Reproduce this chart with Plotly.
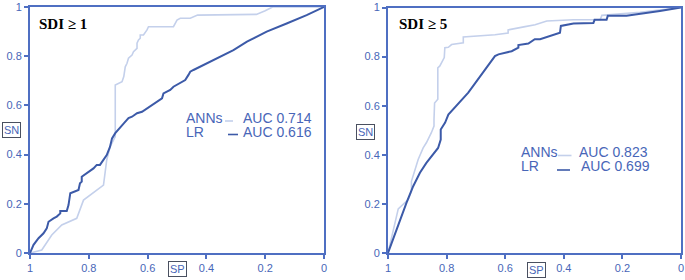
import plotly.graph_objects as go

# ---------------- data ----------------
tick_vals = [0, 0.2, 0.4, 0.6, 0.8, 1]

# SDI >= 1
ann1_sp = [1, .96, .926, .892, .841, .818, .75, .739, .728, .71, .71, .70, .687, .681, .676, .67, .665, .653, .648, .636, .636, .631, .625, .625, .614, .602, .597, .512, .506, .5, .489, .455, .43, .23, .2, .175, 0]
ann1_sn = [0, .012, .073, .114, .141, .215, .276, .378, .43, .473, .683, .69, .696, .717, .757, .771, .792, .805, .818, .832, .853, .866, .873, .886, .886, .907, .92, .92, .934, .947, .954, .954, .967, .97, .985, 1, 1]
lr1_sp = [1, .988, .971, .954, .943, .937, .92, .909, .897, .897, .875, .869, .863, .847, .835, .83, .824, .824, .807, .784, .773, .762, .739, .728, .721, .71, .681, .665, .653, .636, .619, .602, .585, .568, .551, .546, .523, .512, .489, .472, .461, .455, .444, .398, .353, .308, .262, .195, .127, .059, 0]
lr1_sn = [0, .033, .06, .08, .1, .127, .141, .148, .161, .171, .171, .195, .243, .249, .256, .283, .29, .31, .324, .344, .358, .358, .398, .431, .466, .487, .527, .548, .554, .568, .574, .588, .602, .615, .629, .649, .663, .676, .69, .703, .724, .737, .744, .771, .798, .825, .859, .9, .933, .967, 1]

# SDI >= 5
ann5_sp = [1, .965, .931, .92, .92, .897, .88, .869, .852, .843, .843, .841, .83, .83, .823, .808, .806, .794, .783, .743, .743, .714, .635, .59, .59, .532, .498, .458, .367, .276, .27, .14, 0]
ann5_sn = [0, .18, .218, .251, .292, .381, .428, .449, .49, .517, .544, .611, .626, .754, .762, .796, .836, .838, .849, .856, .88, .882, .889, .896, .909, .922, .93, .945, .95, .95, .968, .98, 1]
lr5_sp = [1, .977, .96, .937, .914, .891, .869, .84, .829, .82, .82, .805, .8, .794, .726, .635, .623, .578, .555, .555, .521, .499, .481, .447, .413, .41, .367, .299, .295, .254, .25, .186, .14, .072, 0]
lr5_sn = [0, .075, .136, .204, .272, .327, .367, .408, .428, .462, .503, .531, .546, .564, .653, .802, .809, .822, .836, .847, .853, .871, .871, .885, .897, .925, .935, .937, .95, .95, .966, .966, .973, .986, 1]

panel_titles = ["SDI ≥ 1", "SDI ≥ 5"]
model_names = ["ANNs", "LR"]
auc_sdi1 = ["AUC 0.714", "AUC 0.616"]
auc_sdi5 = ["AUC 0.823", "AUC 0.699"]

# ---------------- style ----------------
W, H = 685, 280
BORDER = "#4f6fc2"
TEXT = "#4866b8"
DARK = "#3c5aa8"
LIGHT = "#c4d0eb"
SANS = "Liberation Sans, Arial, sans-serif"
SERIF = "Liberation Serif, Times New Roman, serif"


def px(x):
    return x / W


def py(y):
    return 1 - y / H


fig = go.Figure()
fig.add_trace(go.Scatter(x=ann1_sp, y=ann1_sn, mode="lines", line=dict(color=LIGHT, width=1.6),
                         name=model_names[0], xaxis="x", yaxis="y"))
fig.add_trace(go.Scatter(x=lr1_sp, y=lr1_sn, mode="lines", line=dict(color=DARK, width=2),
                         name=model_names[1], xaxis="x", yaxis="y"))
fig.add_trace(go.Scatter(x=ann5_sp, y=ann5_sn, mode="lines", line=dict(color=LIGHT, width=1.6),
                         name=model_names[0], xaxis="x2", yaxis="y2"))
fig.add_trace(go.Scatter(x=lr5_sp, y=lr5_sn, mode="lines", line=dict(color=DARK, width=2),
                         name=model_names[1], xaxis="x2", yaxis="y2"))

axis_common = dict(
    showgrid=False, zeroline=False, showline=True, mirror=True, automargin=False,
    linecolor=BORDER, linewidth=2, ticks="outside", ticklen=4, tickwidth=1.5,
    tickcolor=BORDER, tickvals=tick_vals, tickfont=dict(family=SANS, size=11, color=TEXT),
)

fig.update_layout(
    width=W, height=H, margin=dict(l=0, r=0, t=0, b=0, autoexpand=False),
    paper_bgcolor="white", plot_bgcolor="white", showlegend=False,
    xaxis=dict(domain=[px(30), px(324)], range=[1, 0], anchor="y", **axis_common),
    yaxis=dict(domain=[py(253), py(7)], range=[0, 1], anchor="x", **axis_common),
    xaxis2=dict(domain=[px(388), px(681)], range=[1, 0], anchor="y2", **axis_common),
    yaxis2=dict(domain=[py(253), py(7.5)], range=[0, 1], anchor="x2", **axis_common),
)

ann = []
# titles
for t, x0, y0 in [(panel_titles[0], 37, 24), (panel_titles[1], 397, 23.5)]:
    ann.append(dict(text=f"<b>{t}</b>", x=px(x0), y=py(y0), xref="paper", yref="paper",
                    xanchor="left", yanchor="middle", showarrow=False,
                    font=dict(family=SERIF, size=15, color="black")))
# axis labels in boxes
for t, x0, y0 in [("SN", 11.5, 130), ("SN", 366, 132), ("SP", 177.5, 268.5), ("SP", 536, 270)]:
    ann.append(dict(text=t, x=px(x0), y=py(y0), xref="paper", yref="paper",
                    xanchor="center", yanchor="middle", showarrow=False,
                    font=dict(family=SANS, size=11, color=TEXT),
                    bordercolor="#4a5060", borderwidth=1, borderpad=1, bgcolor="white"))
# legend text
legend_rows = [
    (model_names[0], auc_sdi1[0], 185, 241.7, 118.3),
    (model_names[1], auc_sdi1[1], 185, 241.7, 131.7),
    (model_names[0], auc_sdi5[0], 520, 578.3, 151.7),
    (model_names[1], auc_sdi5[1], 520, 580, 166),
]
for name, auc, xn, xa, yr in legend_rows:
    ann.append(dict(text=name, x=px(xn), y=py(yr), xref="paper", yref="paper",
                    xanchor="left", yanchor="middle", showarrow=False, borderpad=0,
                    font=dict(family=SANS, size=14, color=TEXT)))
    ann.append(dict(text=auc, x=px(xa), y=py(yr), xref="paper", yref="paper",
                    xanchor="left", yanchor="middle", showarrow=False, borderpad=0,
                    font=dict(family=SANS, size=14, color=TEXT)))
fig.update_layout(annotations=ann)

# legend line samples
samples = [
    (225, 233, 121, LIGHT), (228, 238, 134.5, DARK),
    (558, 571.5, 155.5, LIGHT), (557, 570, 170, DARK),
]
for x0, x1, y0, c in samples:
    fig.add_shape(type="line", xref="paper", yref="paper", x0=px(x0), x1=px(x1),
                  y0=py(y0), y1=py(y0), line=dict(color=c, width=1.6))

fig.write_html(
    "out.html",
    config={"displayModeBar": False},
    post_script="document.body.style.margin='0';document.body.style.overflow='hidden';",
)
